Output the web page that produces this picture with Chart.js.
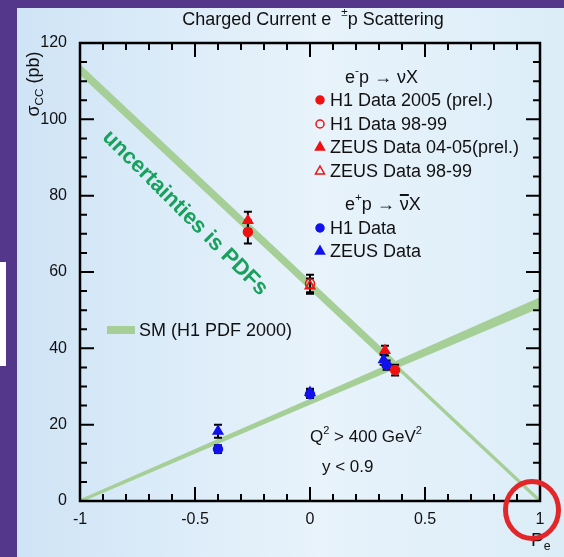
<!DOCTYPE html>
<html>
<head>
<meta charset="utf-8">
<script src="https://cdn.jsdelivr.net/npm/chart.js@4.4.1/dist/chart.umd.min.js"></script>
<style>
  html, body { margin: 0; padding: 0; background: #54378b; }
  #wrap { width: 564px; height: 557px; }
</style>
</head>
<body>
<div id="wrap"><canvas id="ccChart" width="564" height="557"></canvas></div>
<script>
// e-p data (red)
const polH1_2005 = [-0.27, 0.37];
const sigH1_2005 = [70.5, 34.3];
const errH1_2005 = [3.0, 1.4];

const polH1_9899 = [0.0];
const sigH1_9899 = [57.0];
const errH1_9899 = [2.3];

const polZeus_0405 = [-0.27, 0.326];
const sigZeus_0405 = [73.5, 39.4];
const errZeus_0405 = [2.3, 1.3];

const polZeus_9899 = [0.0];
const sigZeus_9899 = [56.3];
const errZeus_9899 = [2.0];

// e+p data (blue)
const polH1_pos = [-0.4, 0.0, 0.333];
const sigH1_pos = [13.6, 28.0, 35.6];
const errH1_pos = [1.0, 1.0, 1.2];

const polZeus_pos = [-0.4, 0.0, 0.32];
const sigZeus_pos = [18.3, 28.4, 37.0];
const errZeus_pos = [1.7, 1.0, 1.3];

// SM (H1 PDF 2000) bands
const smMinusPol = [-1, 0.36, 0.40, 1];
const smMinusHi = [114.4, 37.5, 34.5, 0.6];
const smMinusLo = [111.6, 34.9, 33.3, -0.6];

const smPlusPol = [-1, 0, 1];
const smPlusHi = [0.45, 26.8, 53.4];
const smPlusLo = [-0.45, 25.2, 50.6];

const xTicks = [-1, -0.5, 0, 0.5, 1];
const yTicks = [0, 20, 40, 60, 80, 100, 120];

const FONT = '"Liberation Sans", Arial, Helvetica, sans-serif';
const RED = '#ee1111';
const BLUE = '#1111ee';
const GREEN = '#a6cf98';

function pts(xs, ys) {
  return xs.map((x, i) => ({ x: x, y: ys[i] }));
}

function markerSet(label, xs, ys, errs, style, fill, border, radius) {
  return {
    type: 'scatter',
    label: label,
    data: pts(xs, ys),
    errors: errs,
    isMarker: true,
    pointStyle: style,
    pointRadius: radius,
    pointBackgroundColor: fill,
    pointBorderColor: border,
    pointBorderWidth: 1.5,
    order: 0
  };
}

function bandSet(xs, ys, fillPrev) {
  return {
    type: 'line',
    data: pts(xs, ys),
    borderWidth: 0,
    pointRadius: 0,
    backgroundColor: GREEN,
    fill: fillPrev ? '-1' : false,
    tension: 0,
    order: 10
  };
}

// draw text with super/subscripts, returns end x
function drawParts(ctx, x, y, parts, size, measureOnly) {
  let cx = x;
  parts.forEach(p => {
    const fs = p.s ? size * 0.65 : size;
    ctx.font = fs + 'px ' + FONT;
    let dy = 0;
    if (p.s === 'sup') dy = -size * 0.38;
    if (p.s === 'sub') dy = size * 0.3;
    if (!measureOnly) ctx.fillText(p.t, cx, y + dy);
    cx += ctx.measureText(p.t).width;
  });
  return cx;
}

function drawMarker(ctx, style, x, y, r, fill, stroke) {
  ctx.save();
  ctx.lineWidth = 1.5;
  ctx.strokeStyle = stroke;
  ctx.fillStyle = fill;
  ctx.beginPath();
  if (style === 'circle') {
    ctx.arc(x, y, r, 0, Math.PI * 2);
  } else {
    ctx.moveTo(x, y - r);
    ctx.lineTo(x + r * 0.9, y + r * 0.6);
    ctx.lineTo(x - r * 0.9, y + r * 0.6);
    ctx.closePath();
  }
  if (fill !== 'transparent') ctx.fill();
  ctx.stroke();
  ctx.restore();
}

const decorPlugin = {
  id: 'decor',
  beforeDraw(chart) {
    const ctx = chart.ctx;
    ctx.save();
    ctx.fillStyle = '#54378b';
    ctx.fillRect(0, 0, 564, 557);
    ctx.fillStyle = '#ffffff';
    ctx.fillRect(0, 262, 6, 104);
    const g = ctx.createLinearGradient(17, 0, 564, 0);
    g.addColorStop(0, '#cfe4f6');
    g.addColorStop(0.55, '#e8f3fb');
    g.addColorStop(1, '#dcedf8');
    ctx.fillStyle = g;
    ctx.fillRect(17, 8, 547, 549);
    ctx.restore();
    chart._errDrawn = false;
  },
  beforeDatasetDraw(chart, args) {
    const ds = chart.data.datasets[args.index];
    if (!ds.isMarker || chart._errDrawn) return;
    chart._errDrawn = true;
    const ctx = chart.ctx;
    const xs = chart.scales.x, ys = chart.scales.y;
    ctx.save();
    ctx.strokeStyle = '#000';
    ctx.lineWidth = 2;
    chart.data.datasets.forEach(d => {
      if (!d.isMarker) return;
      d.data.forEach((p, i) => {
        const px = xs.getPixelForValue(p.x);
        const y1 = ys.getPixelForValue(p.y - d.errors[i]);
        const y2 = ys.getPixelForValue(p.y + d.errors[i]);
        ctx.beginPath();
        ctx.moveTo(px, y1); ctx.lineTo(px, y2);
        ctx.moveTo(px - 4, y1); ctx.lineTo(px + 4, y1);
        ctx.moveTo(px - 4, y2); ctx.lineTo(px + 4, y2);
        ctx.stroke();
      });
    });
    ctx.restore();
  },
  afterDraw(chart) {
    const ctx = chart.ctx;
    const a = chart.chartArea;
    const xs = chart.scales.x, ys = chart.scales.y;
    ctx.save();

    // frame with inward ticks
    ctx.strokeStyle = '#000';
    ctx.lineWidth = 2.5;
    ctx.strokeRect(a.left, a.top, a.right - a.left, a.bottom - a.top);
    ctx.lineWidth = 2;
    ctx.beginPath();
    for (let i = -10; i <= 10; i++) {
      const v = i / 10;
      const px = xs.getPixelForValue(v);
      const len = (i % 5 === 0) ? 14 : 7;
      ctx.moveTo(px, a.bottom); ctx.lineTo(px, a.bottom - len);
      ctx.moveTo(px, a.top); ctx.lineTo(px, a.top + len);
    }
    for (let v = 0; v <= 120; v += 5) {
      const py = ys.getPixelForValue(v);
      const len = (v % 20 === 0) ? 14 : 7;
      ctx.moveTo(a.left, py); ctx.lineTo(a.left + len, py);
      ctx.moveTo(a.right, py); ctx.lineTo(a.right - len, py);
    }
    ctx.stroke();

    ctx.fillStyle = '#111';
    ctx.textBaseline = 'middle';
    ctx.textAlign = 'left';

    // title
    const tParts = [{ t: 'Charged Current e  ' }, { t: '±', s: 'sup' }, { t: 'p Scattering' }];
    const tw = drawParts(ctx, 0, 0, tParts, 18, true);
    drawParts(ctx, 313 - tw / 2, 20, tParts, 18);

    // y axis title
    ctx.save();
    ctx.translate(34, 84);
    ctx.rotate(-Math.PI / 2);
    const yParts = [{ t: 'σ' }, { t: 'CC', s: 'sub' }, { t: ' (pb)' }];
    const yw = drawParts(ctx, 0, 0, yParts, 18, true);
    drawParts(ctx, -yw / 2, 0, yParts, 18);
    ctx.restore();

    // x axis title
    drawParts(ctx, 531, 541, [{ t: 'P' }, { t: 'e', s: 'sub' }], 19);

    // legend e-p
    const lx = 320, tx = 330;
    drawParts(ctx, 345, 78, [{ t: 'e' }, { t: '-', s: 'sup' }, { t: 'p \u2192 \u03bdX' }], 18);
    const rows1 = [
      ['circle', RED, RED, 'H1 Data 2005 (prel.)', 101],
      ['circle', 'transparent', RED, 'H1 Data 98-99', 125],
      ['triangle', RED, RED, 'ZEUS Data 04-05(prel.)', 148],
      ['triangle', 'transparent', RED, 'ZEUS Data 98-99', 172]
    ];
    const rows2 = [
      ['circle', BLUE, BLUE, 'H1 Data', 229],
      ['triangle', BLUE, BLUE, 'ZEUS Data', 252]
    ];
    rows1.concat(rows2).forEach(r => {
      drawMarker(ctx, r[0], lx, r[4] - 1, r[0] === 'circle' ? 4 : 5, r[1], r[2]);
      ctx.fillStyle = '#111';
      ctx.font = '18px ' + FONT;
      ctx.fillText(r[3], tx, r[4]);
    });
    // e+p header with nu-bar
    ctx.fillStyle = '#111';
    let hx = drawParts(ctx, 345, 205, [{ t: 'e' }, { t: '+', s: 'sup' }, { t: 'p \u2192 ' }], 18);
    ctx.font = '18px ' + FONT;
    const nuW = ctx.measureText('\u03bd').width;
    ctx.fillText('\u03bdX', hx, 205);
    ctx.fillRect(hx, 194, nuW, 2);

    // SM legend
    ctx.fillStyle = GREEN;
    ctx.fillRect(107, 326, 28, 8);
    ctx.fillStyle = '#111';
    ctx.font = '18px ' + FONT;
    ctx.fillText('SM (H1 PDF 2000)', 139, 331);

    // cuts
    drawParts(ctx, 310, 437, [{ t: 'Q' }, { t: '2', s: 'sup' }, { t: ' > 400 GeV' }, { t: '2', s: 'sup' }], 17);
    drawParts(ctx, 322, 467, [{ t: 'y < 0.9' }], 17);

    // rotated note
    ctx.save();
    ctx.translate(185, 213);
    ctx.rotate(Math.PI / 4);
    ctx.fillStyle = '#18a05c';
    ctx.font = 'bold 22px ' + FONT;
    ctx.textAlign = 'center';
    ctx.fillText('uncertainties is PDFs', 0, 0);
    ctx.restore();

    // red circle annotation
    ctx.strokeStyle = '#e2262a';
    ctx.lineWidth = 5;
    ctx.beginPath();
    ctx.ellipse(532, 510, 26.5, 28.5, 0, 0, Math.PI * 2);
    ctx.stroke();

    ctx.restore();
  }
};

const datasets = [
  markerSet('H1 Data 2005 (prel.)', polH1_2005, sigH1_2005, errH1_2005, 'circle', RED, RED, 4.5),
  markerSet('H1 Data 98-99', polH1_9899, sigH1_9899, errH1_9899, 'circle', 'transparent', RED, 4.5),
  markerSet('ZEUS Data 04-05(prel.)', polZeus_0405, sigZeus_0405, errZeus_0405, 'triangle', RED, RED, 5.5),
  markerSet('ZEUS Data 98-99', polZeus_9899, sigZeus_9899, errZeus_9899, 'triangle', 'transparent', RED, 5.5),
  markerSet('H1 Data', polH1_pos, sigH1_pos, errH1_pos, 'circle', BLUE, BLUE, 4.5),
  markerSet('ZEUS Data', polZeus_pos, sigZeus_pos, errZeus_pos, 'triangle', BLUE, BLUE, 5.5),
  bandSet(smMinusPol, smMinusHi, false),
  bandSet(smMinusPol, smMinusLo, true),
  bandSet(smPlusPol, smPlusHi, false),
  bandSet(smPlusPol, smPlusLo, true)
];

new Chart(document.getElementById('ccChart'), {
  type: 'scatter',
  data: { datasets: datasets },
  options: {
    responsive: false,
    animation: false,
    layout: { padding: { left: 0, top: 43, right: 24, bottom: 0 } },
    plugins: {
      legend: { display: false },
      tooltip: { enabled: false },
      title: { display: false }
    },
    scales: {
      x: {
        type: 'linear',
        min: -1,
        max: 1,
        afterBuildTicks: s => { s.ticks = xTicks.map(v => ({ value: v })); },
        afterFit: s => { s.height = 56; },
        ticks: {
          font: { size: 16, family: FONT }, color: '#111', padding: 1, maxRotation: 0,
          callback: v => String(v)
        },
        grid: { display: false },
        border: { display: false }
      },
      y: {
        type: 'linear',
        min: 0,
        max: 120,
        afterBuildTicks: s => { s.ticks = yTicks.map(v => ({ value: v })); },
        afterFit: s => { s.width = 80; },
        ticks: { font: { size: 16, family: FONT }, color: '#111', padding: 5, callback: v => String(v) },
        grid: { display: false },
        border: { display: false }
      }
    }
  },
  plugins: [decorPlugin]
});
</script>
</body>
</html>
